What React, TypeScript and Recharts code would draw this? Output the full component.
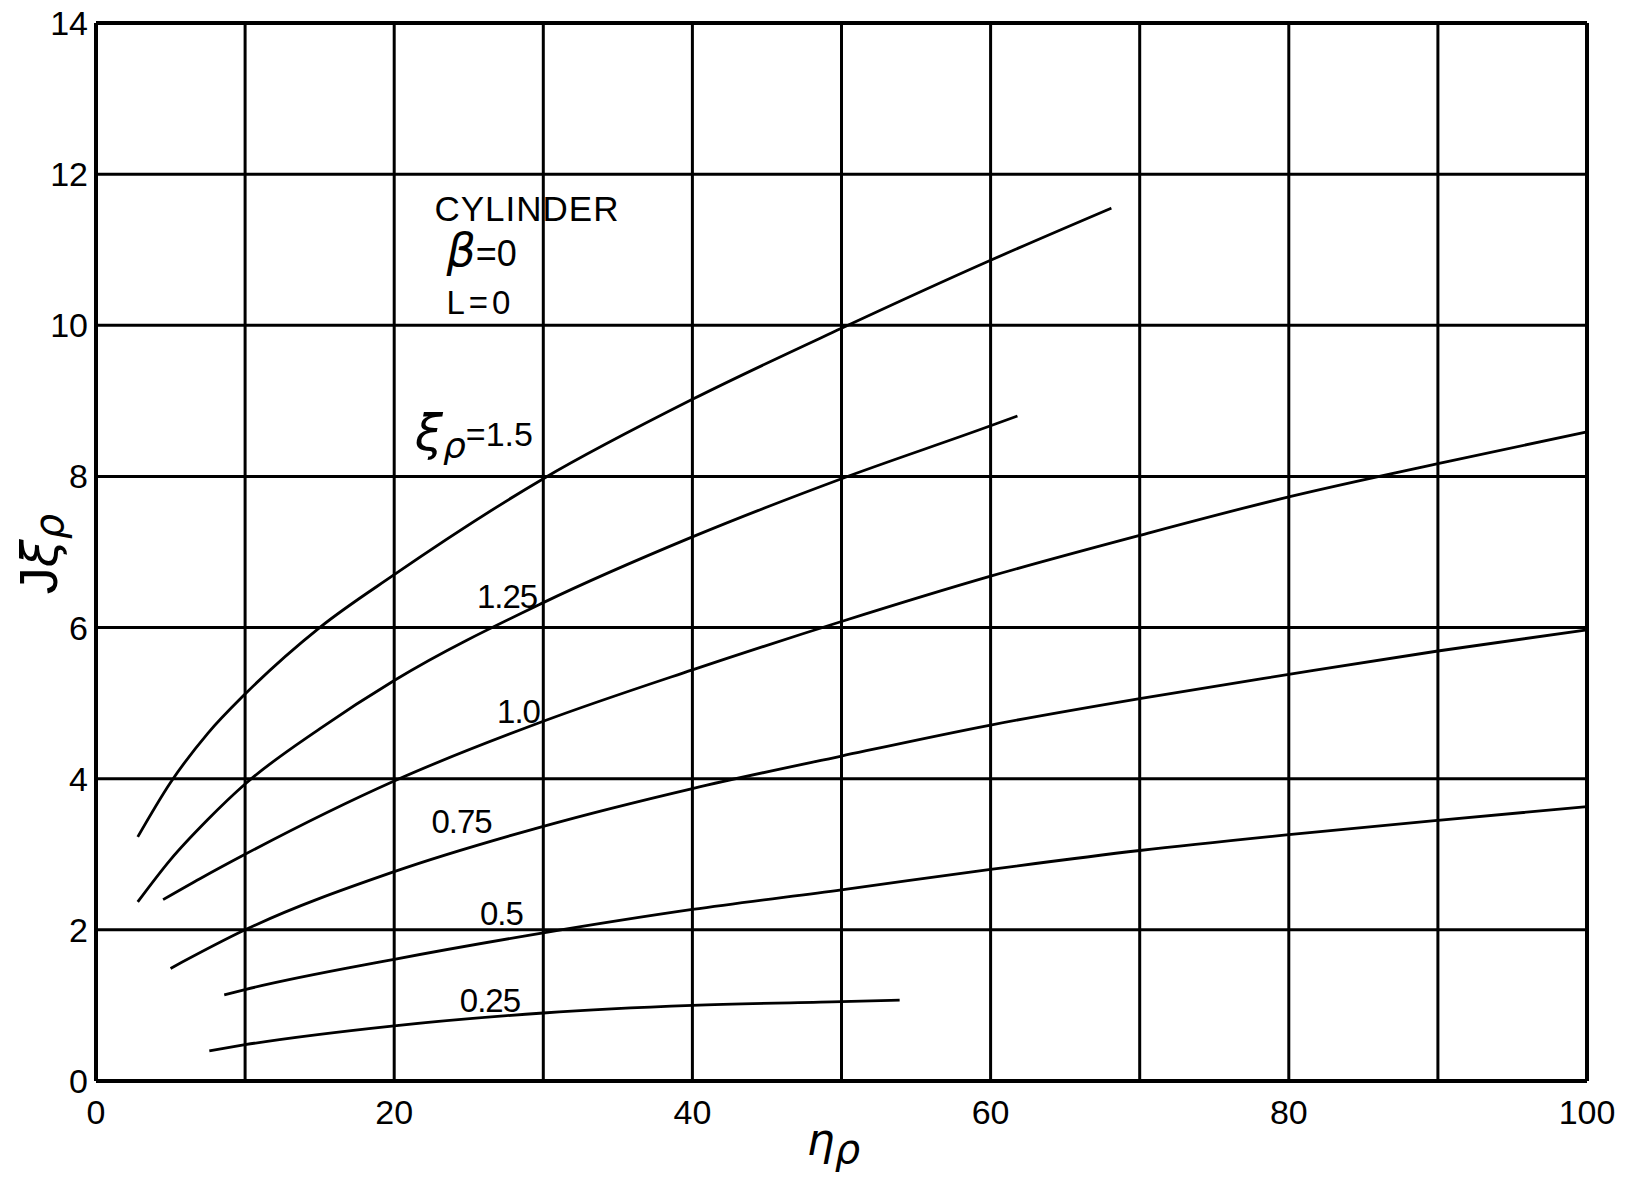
import React from 'react';
import {
  LineChart,
  Line,
  XAxis,
  YAxis,
  CartesianGrid,
  ReferenceDot,
  ReferenceLine,
} from 'recharts';

// ---- data: J·ξρ against ηρ for each value of ξρ (cylinder, β = 0, L = 0) ----
const eta150 = [2.8, 5, 7.5, 10, 15, 20, 30, 40, 50, 60, 68.1];
const jxi150 = [3.23, 3.95, 4.6, 5.12, 6.0, 6.7, 7.97, 9.02, 9.96, 10.86, 11.55];

const eta125 = [2.8, 5, 7.5, 10, 15, 20, 30, 40, 50, 60, 61.8];
const jxi125 = [2.37, 2.93, 3.46, 3.93, 4.66, 5.3, 6.33, 7.2, 7.97, 8.67, 8.8];

const eta100 = [4.5, 7, 10, 20, 30, 40, 50, 60, 70, 80, 90, 100];
const jxi100 = [2.4, 2.68, 3.0, 3.97, 4.76, 5.44, 6.08, 6.68, 7.22, 7.73, 8.17, 8.59];

const eta075 = [5, 10, 20, 30, 40, 50, 60, 70, 80, 90, 100];
const jxi075 = [1.49, 2.0, 2.77, 3.37, 3.87, 4.3, 4.71, 5.06, 5.38, 5.69, 5.97];

const eta050 = [8.6, 10, 20, 30, 40, 50, 60, 70, 80, 90, 100];
const jxi050 = [1.14, 1.21, 1.61, 1.96, 2.27, 2.53, 2.8, 3.05, 3.26, 3.45, 3.63];

const eta025 = [7.6, 10, 20, 30, 40, 50, 53.9];
const jxi025 = [0.4, 0.48, 0.73, 0.9, 1.0, 1.05, 1.07];

// ---- axes ----
const xTicks = [0, 10, 20, 30, 40, 50, 60, 70, 80, 90, 100];
const xTickLabels = [0, 20, 40, 60, 80, 100];
const yTicks = [0, 2, 4, 6, 8, 10, 12, 14];

// ---- curve labels (text, anchor ηρ, anchor J·ξρ) ----
const curveLabelText = ['1.25', '1.0', '0.75', '0.5', '0.25'];
const curveLabelEta = [25.55, 26.9, 22.5, 25.75, 24.4];
const curveLabelJ = [6.26, 4.74, 3.28, 2.07, 0.91];

const zip = (xs: number[], ys: number[]) => xs.map((eta, i) => ({ eta, j: ys[i] }));

const series = [
  { key: 'xi150', points: zip(eta150, jxi150) },
  { key: 'xi125', points: zip(eta125, jxi125) },
  { key: 'xi100', points: zip(eta100, jxi100) },
  { key: 'xi075', points: zip(eta075, jxi075) },
  { key: 'xi050', points: zip(eta050, jxi050) },
  { key: 'xi025', points: zip(eta025, jxi025) },
];

const SANS = '"Liberation Sans", Arial, sans-serif';
const GREEK = '"DejaVu Sans", "Liberation Sans", sans-serif';
const INK = '#000';

// draws arbitrary svg text anchored at a data point
const textShape = (render: (x: number, y: number) => React.ReactNode) => (p: any) =>
  <g>{render(p.cx, p.cy)}</g>;

const YTitle = (props: any) => {
  const vb = props.viewBox;
  const x = vb.x + 49;
  const y = vb.y + vb.height / 2 + 2;
  return (
    <text
      x={x}
      y={y}
      transform={`rotate(-90, ${x}, ${y})`}
      textAnchor="middle"
      fill={INK}
    >
      <tspan fontFamily={SANS} fontSize={54}>J</tspan>
      <tspan fontFamily={GREEK} fontStyle="italic" fontSize={50}>ξ</tspan>
      <tspan fontFamily={GREEK} fontStyle="italic" fontSize={40} dy={6}>ρ</tspan>
    </text>
  );
};

const XTitle = (props: any) => {
  const vb = props.viewBox;
  const x = vb.x + vb.width / 2 - 8;
  const y = vb.y + 74;
  return (
    <text x={x} y={y} textAnchor="middle" fill={INK} fontFamily={GREEK} fontStyle="italic">
      <tspan fontSize={44}>η</tspan>
      <tspan fontSize={40} dy={8}>ρ</tspan>
    </text>
  );
};

export default function App() {
  return (
    <div style={{ marginTop: -8 }}>
      <LineChart
        width={1613}
        height={1177}
        margin={{ top: 23, right: 34, bottom: 0, left: 0 }}
        style={{ background: '#fff' }}
      >
        <CartesianGrid stroke={INK} strokeWidth={3} />
        <XAxis
          type="number"
          dataKey="eta"
          domain={[0, 100]}
          ticks={xTicks}
          interval={0}
          height={96}
          tickSize={0}
          tickMargin={19}
          tickLine={false}
          axisLine={{ stroke: INK, strokeWidth: 4 }}
          tick={{ fill: INK, fontSize: 34, fontFamily: SANS }}
          tickFormatter={(v: number) => (xTickLabels.includes(v) ? String(v) : '')}
          label={<XTitle />}
        />
        <YAxis
          type="number"
          domain={[0, 14]}
          ticks={yTicks}
          interval={0}
          width={88}
          tickSize={0}
          tickMargin={8}
          tickLine={false}
          axisLine={{ stroke: INK, strokeWidth: 4 }}
          tick={{ fill: INK, fontSize: 34, fontFamily: SANS }}
          label={<YTitle />}
        />
        <ReferenceLine y={14} stroke={INK} strokeWidth={4} />
        <ReferenceLine x={100} stroke={INK} strokeWidth={4} />

        {series.map((s) => (
          <Line
            key={s.key}
            data={s.points}
            dataKey="j"
            type="monotone"
            stroke={INK}
            strokeWidth={2.8}
            dot={false}
            activeDot={false}
            isAnimationActive={false}
          />
        ))}

        <ReferenceDot
          x={22.7}
          y={11.38}
          r={0}
          shape={textShape((x, y) => (
            <text x={x} y={y} fontFamily={SANS} fontSize={35} fill={INK} letterSpacing={1}>
              CYLINDER
            </text>
          ))}
        />
        <ReferenceDot
          x={23.5}
          y={10.78}
          r={0}
          shape={textShape((x, y) => (
            <text x={x} y={y} fill={INK}>
              <tspan fontFamily={GREEK} fontStyle="italic" fontSize={46}>β</tspan>
              <tspan fontFamily={SANS} fontSize={36}>=0</tspan>
            </text>
          ))}
        />
        <ReferenceDot
          x={23.5}
          y={10.15}
          r={0}
          shape={textShape((x, y) => (
            <text x={x} y={y} fontFamily={SANS} fontSize={33} fill={INK} letterSpacing={4}>
              L=0
            </text>
          ))}
        />
        <ReferenceDot
          x={21.4}
          y={8.4}
          r={0}
          shape={textShape((x, y) => (
            <text x={x} y={y} fill={INK}>
              <tspan fontFamily={GREEK} fontStyle="italic" fontSize={50} dy={4}>ξ</tspan>
              <tspan fontFamily={GREEK} fontStyle="italic" fontSize={36} dy={8}>ρ</tspan>
              <tspan fontFamily={SANS} fontSize={34} dy={-12}>=1.5</tspan>
            </text>
          ))}
        />

        {curveLabelText.map((t, i) => (
          <ReferenceDot
            key={t}
            x={curveLabelEta[i]}
            y={curveLabelJ[i]}
            r={0}
            shape={textShape((x, y) => (
              <text x={x} y={y} fontFamily={SANS} fontSize={33} fill={INK} letterSpacing={-1}>
                {t}
              </text>
            ))}
          />
        ))}
      </LineChart>
    </div>
  );
}
